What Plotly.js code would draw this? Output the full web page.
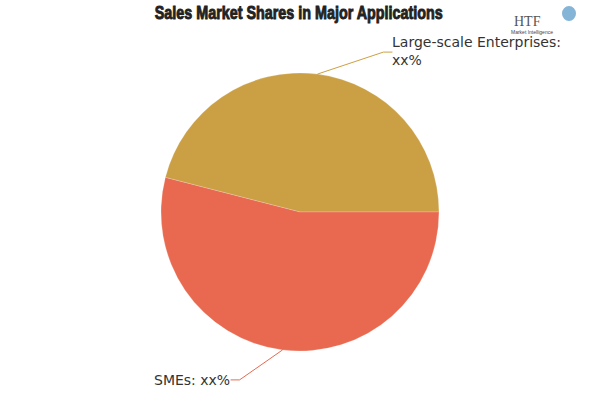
<!DOCTYPE html>
<html><head><meta charset="utf-8">
<script src="https://cdn.plot.ly/plotly-3.0.1.min.js"></script>
<style>html,body{margin:0;padding:0;background:#fff}#chart{width:600px;height:400px}</style>
</head><body><div id="chart"></div>
<script>
const categories = ["Large-scale Enterprises", "SMEs"];
const shares = [46, 54];
const labelTexts = ["Large-scale Enterprises:<br>xx%", "SMEs: xx%"];
const colors = ["#CBA045", "#E8694F"];
const lineColors = ["#CBA045", "#E8694F"];

const W = 600, H = 400;
const dom = {x: [0, 1], y: [49 / H, 1 - 73 / H]};
const cx = W / 2, cy = H - (dom.y[0] + dom.y[1]) / 2 * H;
const R = (dom.y[1] - dom.y[0]) * H / 2;

const total = shares.reduce((a, b) => a + b, 0);
const shapes = [], annotations = [];
const elbowOff = [[66, -22], [-43, 30]];
const tailLen = [9, -9];
let start = 0;
shares.forEach((v, i) => {
  const mid = start + v / total * 360 / 2;
  start += v / total * 360;
  const a = mid * Math.PI / 180;
  const ex = cx + R * Math.cos(a), ey = cy - R * Math.sin(a);
  const bx = ex + elbowOff[i][0], by = ey + elbowOff[i][1];
  const tx = bx + tailLen[i];
  const px = x => x / W, py = y => 1 - y / H;
  shapes.push({type: "line", xref: "paper", yref: "paper", x0: px(ex), y0: py(ey), x1: px(bx), y1: py(by), line: {color: lineColors[i], width: 1}});
  shapes.push({type: "line", xref: "paper", yref: "paper", x0: px(bx), y0: py(by), x1: px(tx), y1: py(by), line: {color: lineColors[i], width: 1}});
  const right = tailLen[i] > 0;
  annotations.push({
    xref: "paper", yref: "paper", x: px(tx + (right ? -2 : 1)), y: py(by + (right ? -1 : 0)),
    xanchor: right ? "left" : "right", yanchor: "middle",
    text: labelTexts[i], showarrow: false, align: "left",
    font: {family: "DejaVu Sans, Verdana, sans-serif", size: 14, color: "#333"}
  });
});

// logo
annotations.push({xref: "paper", yref: "paper", x: 543 / W, y: 1 - 12 / H, text: "HTF", showarrow: false,
  font: {family: "Liberation Serif, serif", size: 14, color: "#555"}});
annotations.push({xref: "paper", yref: "paper", x: 555 / W, y: 1 - 27 / H, text: "Market Intelligence", showarrow: false,
  font: {family: "Liberation Sans, sans-serif", size: 5, color: "#444"}});
shapes.push({type: "circle", xref: "paper", yref: "paper", x0: 562 / W, x1: 576 / W, y0: 1 - 21 / H, y1: 1 - 6 / H,
  fillcolor: "#5b9bc8", line: {width: 0}, opacity: 0.75});

const data = [{
  type: "pie", labels: categories, values: shares, sort: false,
  direction: "clockwise", rotation: 90 - shares[0] / total * 360, domain: dom,
  marker: {colors: colors, line: {color: "rgba(255,255,255,0.4)", width: 0.5}},
  textinfo: "none", hoverinfo: "label+percent", showlegend: false
}];
const layout = {
  width: W, height: H, margin: {l: 0, r: 0, t: 0, b: 0},
  paper_bgcolor: "#fff",
  title: {text: "<b>Sales Market Shares in Major Applications</b>", x: 0.498, xanchor: "center", y: 1 - 13 / H, yanchor: "middle",
    font: {family: "Liberation Sans Narrow, Liberation Sans, sans-serif", size: 18, color: "#222"}},
  shapes: shapes, annotations: annotations
};
Plotly.newPlot("chart", data, layout, {displayModeBar: false}).then(() => {
  const t = document.querySelector(".gtitle");
  if (t) {
    t.setAttribute("textLength", "288");
    t.setAttribute("lengthAdjust", "spacingAndGlyphs");
    t.style.strokeWidth = "0.9px";
    t.style.stroke = "#222";
  }
});
</script></body></html>
